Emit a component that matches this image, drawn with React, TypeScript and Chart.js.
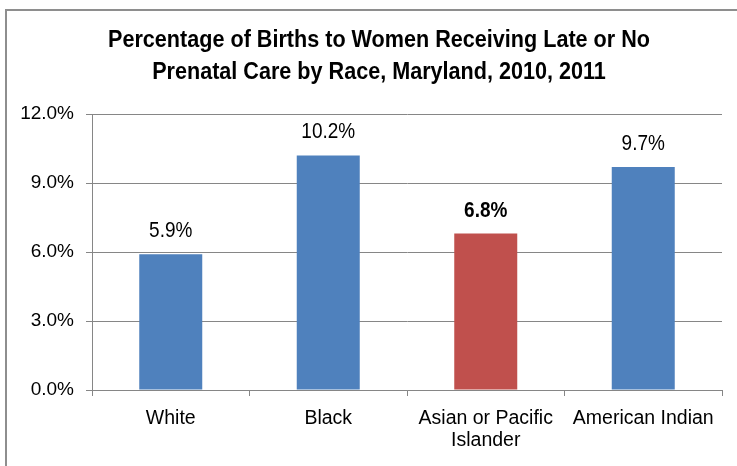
import React, { useEffect, useRef } from "react";
import { Chart, registerables } from "chart.js";

Chart.register(...registerables);

const categories: (string | string[])[] = ["White", "Black", ["Asian or Pacific", "Islander"], "American Indian"];
const values: number[] = [5.9, 10.2, 6.8, 9.7];
const valueLabels: string[] = ["5.9%", "10.2%", "6.8%", "9.7%"];
const barColors: string[] = ["#4F81BD", "#4F81BD", "#C0504D", "#4F81BD"];
const boldLabel: boolean[] = [false, false, true, false];
const titleLines: string[] = [
  "Percentage of Births to Women Receiving Late or No",
  "Prenatal Care by Race, Maryland, 2010, 2011",
];

const FONT = "'Liberation Sans', Arial, sans-serif";

function stretchedText(ctx: CanvasRenderingContext2D, text: string, x: number, y: number, sy: number) {
  ctx.save();
  ctx.translate(x, y);
  ctx.scale(1, sy);
  ctx.fillText(text, 0, 0);
  ctx.restore();
}

export default function App() {
  const ref = useRef<HTMLCanvasElement | null>(null);
  useEffect(() => {
    if (!ref.current) return;
    const framePlugin = {
      id: "frame",
      beforeDraw(chart: any) {
        const ctx = chart.ctx;
        ctx.save();
        ctx.fillStyle = "#ffffff";
        ctx.fillRect(0, 0, chart.width, chart.height);
        ctx.strokeStyle = "#8e8e8e";
        ctx.lineWidth = 2;
        ctx.strokeRect(6, 10, 760, 460);
        ctx.fillStyle = "#000";
        ctx.font = `bold 21.6px ${FONT}`;
        ctx.textAlign = "center";
        ctx.textBaseline = "middle";
        stretchedText(ctx, titleLines[0], 379, 40, 1.1);
        stretchedText(ctx, titleLines[1], 379, 72, 1.1);
        ctx.restore();
      },
      afterDatasetsDraw(chart: any) {
        const ctx = chart.ctx;
        const meta = chart.getDatasetMeta(0);
        ctx.save();
        ctx.fillStyle = "#000";
        ctx.textAlign = "center";
        ctx.textBaseline = "middle";
        meta.data.forEach((bar: any, i: number) => {
          ctx.font = `${boldLabel[i] ? "bold " : ""}19px ${FONT}`;
          stretchedText(ctx, valueLabels[i], bar.x, bar.y - 23, 1.15);
        });
        ctx.restore();
      },
    };
    const chart = new Chart(ref.current, {
      type: "bar",
      data: {
        labels: categories,
        datasets: [
          {
            data: values,
            backgroundColor: barColors,
            barPercentage: 0.4,
            categoryPercentage: 1,
          },
        ],
      },
      options: {
        animation: false,
        responsive: false,
        devicePixelRatio: 1,
        layout: { padding: { top: 114, right: 15, left: 0, bottom: 0 } },
        plugins: { legend: { display: false }, tooltip: { enabled: false }, title: { display: false } },
        scales: {
          x: {
            grid: { offset: true, drawOnChartArea: false, color: "#868686", tickLength: 6 },
            border: { color: "#868686" },
            ticks: { color: "#000", font: { family: FONT, size: 19.5, lineHeight: 1.13 }, padding: 12, maxRotation: 0, autoSkip: false },
            afterFit(scale: any) { scale.height = 76; },
          },
          y: {
            min: 0,
            max: 12,
            grid: { color: "#868686", tickLength: 6 },
            border: { color: "#868686" },
            ticks: {
              stepSize: 3,
              color: "#000",
              padding: 12,
              font: { family: FONT, size: 19 },
              callback: (v: any) => Number(v).toFixed(1) + "%",
            },
            afterFit(scale: any) { scale.width = 92; },
          },
        },
      },
      plugins: [framePlugin],
    });
    return () => chart.destroy();
  }, []);
  return (
    <div style={{ position: "fixed", left: 0, top: 0, width: 737, height: 466, background: "#fff" }}>
      <canvas ref={ref} width={737} height={466} style={{ width: 737, height: 466, display: "block" }} />
    </div>
  );
}
